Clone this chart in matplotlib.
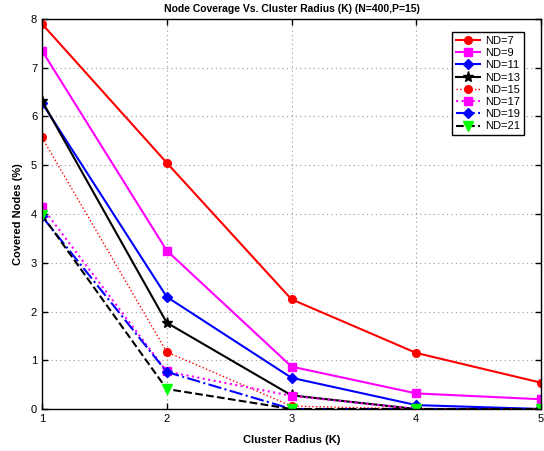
import matplotlib
matplotlib.use("Agg")
import matplotlib.pyplot as plt

plt.rcParams['font.family'] = ['Liberation Sans', 'DejaVu Sans']

radius = [1, 2, 3, 4, 5]
nd7 = [7.90, 5.05, 2.25, 1.15, 0.54]
nd9 = [7.35, 3.25, 0.87, 0.32, 0.20]
nd11 = [6.28, 2.30, 0.64, 0.08, 0.00]
nd13 = [6.32, 1.77, 0.28, 0.00, 0.00]
nd15 = [5.57, 1.17, 0.06, 0.00, 0.00]
nd17 = [4.14, 0.77, 0.27, 0.00, 0.00]
nd19 = [3.95, 0.76, 0.00, 0.00, 0.00]
nd21 = [3.98, 0.41, 0.00, 0.00, 0.00]
labels = ['ND=7', 'ND=9', 'ND=11', 'ND=13', 'ND=15', 'ND=17', 'ND=19', 'ND=21']
xticks = [1, 2, 3, 4, 5]
yticks = [0, 1, 2, 3, 4, 5, 6, 7, 8]

fig = plt.figure(figsize=(5.44, 4.51), dpi=100)
ax = fig.add_axes([0.0772, 0.0931, 0.9173, 0.8648])

ms = 5.5
lw = 1.5
ax.plot(radius, nd7, color='red', ls='-', marker='o', ms=ms, lw=lw, label=labels[0])
ax.plot(radius, nd9, color='magenta', ls='-', marker='s', ms=ms, lw=lw, label=labels[1])
ax.plot(radius, nd11, color='blue', ls='-', marker='D', ms=5, lw=lw, label=labels[2])
ax.plot(radius, nd13, color='black', ls='-', marker='*', ms=8, lw=lw, label=labels[3])
ax.plot(radius, nd15, color='red', ls=':', marker='o', ms=ms, lw=1.0, label=labels[4])
ax.plot(radius, nd17, color='magenta', ls=':', marker='s', ms=ms, lw=1.5, label=labels[5])
ax.plot(radius, nd19, color='blue', ls='-.', marker='D', ms=5, lw=1.5, label=labels[6])
ax.plot(radius, nd21, color='black', ls='--', marker='v', ms=7, mfc='#00ff00', mec='#00ff00', lw=1.5, label=labels[7])

ax.set_xlim(1, 5)
ax.set_ylim(0, 8)
ax.set_xticks(xticks)
ax.set_yticks(yticks)
ax.tick_params(direction='in', top=True, right=True, labelsize=8, length=4, width=1)
ax.grid(True, ls=(0, (1, 3)), color='#999999', lw=0.8)
for s in ax.spines.values():
    s.set_linewidth(1.0)
ax.set_title('Node Coverage Vs. Cluster Radius (K) (N=400,P=15)', fontsize=7.5, fontweight='bold', pad=5)
ax.set_xlabel('Cluster Radius (K)', fontsize=8, fontweight='bold', labelpad=8)
ax.set_ylabel('Covered Nodes (%)', fontsize=8, fontweight='bold', labelpad=6)
leg = ax.legend(loc='upper right', fontsize=8, fancybox=False, framealpha=1, edgecolor='black',
                handlelength=2.2, labelspacing=0.2, borderpad=0.35, handletextpad=0.5,
                bbox_to_anchor=(0.978, 0.981))
leg.get_frame().set_linewidth(1.0)

fig.savefig('out.png', dpi=100)
